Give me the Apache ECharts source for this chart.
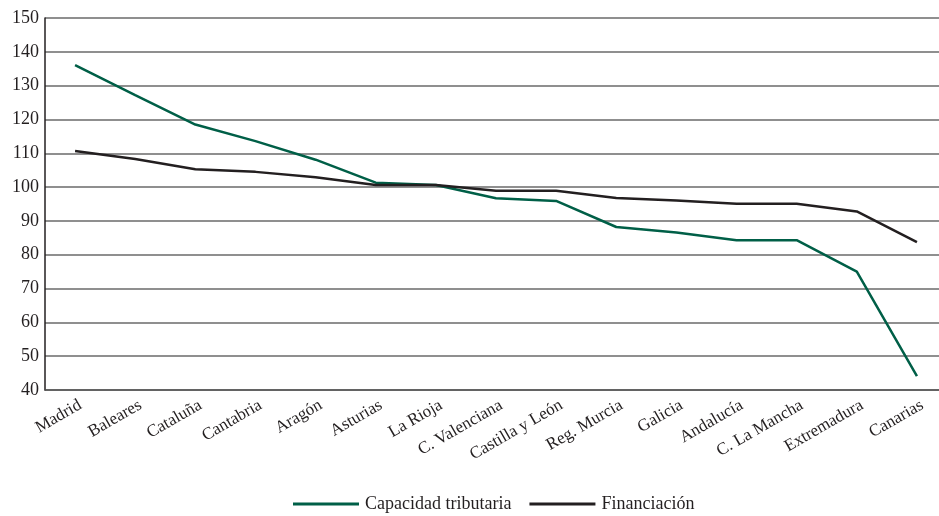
<!DOCTYPE html>
<html>
<head>
<meta charset="utf-8">
<script src="https://cdn.jsdelivr.net/npm/echarts@6/dist/echarts.min.js"></script>
<style>
  html, body { margin: 0; padding: 0; background: #ffffff; overflow: hidden; }
  /* the plot runs a few pixels past the right edge of the window */
  #chart { width: 947px; height: 516px; }
</style>
</head>
<body>
<div id="chart"></div>
<script>
// Regions, ordered by tax capacity
const categories = ['Madrid', 'Baleares', 'Cataluña', 'Cantabria', 'Aragón', 'Asturias', 'La Rioja',
  'C. Valenciana', 'Castilla y León', 'Reg. Murcia', 'Galicia', 'Andalucía', 'C. La Mancha',
  'Extremadura', 'Canarias'];

// Index values (average = 100)
const capacidadTributaria = [136.1, 127.2, 118.5, 113.6, 108.1, 101.3, 100.6, 96.7, 95.9, 88.2, 86.6, 84.3, 84.3, 75.0, 44.1];
const financiacion = [110.7, 108.3, 105.3, 104.5, 102.9, 100.6, 100.6, 98.9, 98.9, 96.8, 96.0, 95.1, 95.1, 92.8, 83.7];

const seriesNames = ['Capacidad tributaria', 'Financiación'];
const yMin = 40, yMax = 150, yStep = 10;

const FONT = '"Liberation Serif", "DejaVu Serif", serif';
const GREEN = '#005f47';
const DARK = '#231f20';

const chart = echarts.init(document.getElementById('chart'), null, { renderer: 'canvas' });
chart.setOption({
  animation: false,
  backgroundColor: '#ffffff',
  grid: { left: 45, top: 18, right: 0, bottom: 126, containLabel: false },
  legend: {
    bottom: 3,
    left: 293,
    padding: 0,
    itemWidth: 66,
    itemHeight: 3,
    itemGap: 18,
    icon: 'rect',
    textStyle: { fontFamily: FONT, fontSize: 18, color: '#231f20', padding: [0, 0, 0, 1] },
    data: seriesNames
  },
  xAxis: {
    type: 'category',
    data: categories,
    boundaryGap: true,
    axisLine: { show: true, lineStyle: { color: '#555555', width: 1.5 } },
    axisTick: { show: false },
    axisLabel: {
      interval: 0,
      rotate: 30,
      margin: 17,
      fontFamily: FONT,
      fontSize: 17,
      color: '#231f20',
      padding: [0, -6, 0, 0]
    }
  },
  yAxis: {
    type: 'value',
    min: yMin,
    max: yMax,
    interval: yStep,
    axisLine: { show: true, lineStyle: { color: DARK, width: 1.5 } },
    axisTick: { show: false },
    axisLabel: { margin: 6, fontFamily: FONT, fontSize: 18, color: '#231f20' },
    splitLine: { show: true, lineStyle: { color: '#6a6a6a', width: 1.5 } }
  },
  series: [
    {
      name: seriesNames[0],
      type: 'line',
      data: capacidadTributaria,
      symbol: 'none',
      lineStyle: { color: GREEN, width: 2.5 },
      itemStyle: { color: GREEN },
      z: 3
    },
    {
      name: seriesNames[1],
      type: 'line',
      data: financiacion,
      symbol: 'none',
      lineStyle: { color: DARK, width: 2.5 },
      itemStyle: { color: DARK },
      z: 4
    }
  ]
});
</script>
</body>
</html>
